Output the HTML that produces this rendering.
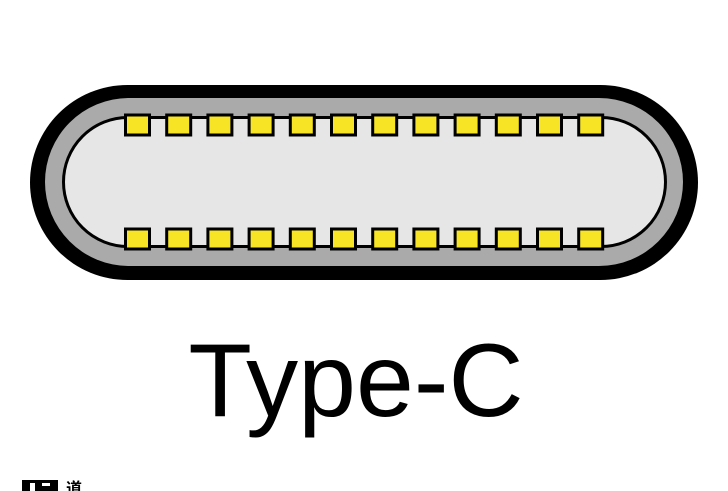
<!DOCTYPE html>
<html><head><meta charset="utf-8"><style>
html,body{margin:0;padding:0;background:#fff;width:728px;height:491px;overflow:hidden}
</style></head><body>
<svg width="728" height="491" xmlns="http://www.w3.org/2000/svg">
<rect x="30" y="85" width="668" height="195" rx="97.5" fill="#000"/>
<rect x="45" y="98" width="638" height="168" rx="84" fill="#aaaaaa"/>
<rect x="63.5" y="117.5" width="602" height="129" rx="64.5" fill="#e6e6e6" stroke="#000" stroke-width="3"/>
<g fill="#f7e425" stroke="#000" stroke-width="3">
<rect x="125.5" y="115" width="24" height="20"/><rect x="166.7" y="115" width="24" height="20"/><rect x="207.9" y="115" width="24" height="20"/><rect x="249.1" y="115" width="24" height="20"/><rect x="290.3" y="115" width="24" height="20"/><rect x="331.5" y="115" width="24" height="20"/><rect x="372.7" y="115" width="24" height="20"/><rect x="413.9" y="115" width="24" height="20"/><rect x="455.1" y="115" width="24" height="20"/><rect x="496.3" y="115" width="24" height="20"/><rect x="537.5" y="115" width="24" height="20"/><rect x="578.7" y="115" width="24" height="20"/>
<rect x="125.5" y="229" width="24" height="20"/><rect x="166.7" y="229" width="24" height="20"/><rect x="207.9" y="229" width="24" height="20"/><rect x="249.1" y="229" width="24" height="20"/><rect x="290.3" y="229" width="24" height="20"/><rect x="331.5" y="229" width="24" height="20"/><rect x="372.7" y="229" width="24" height="20"/><rect x="413.9" y="229" width="24" height="20"/><rect x="455.1" y="229" width="24" height="20"/><rect x="496.3" y="229" width="24" height="20"/><rect x="537.5" y="229" width="24" height="20"/><rect x="578.7" y="229" width="24" height="20"/>
</g>
<text x="356" y="416" text-anchor="middle" font-family="Liberation Sans, sans-serif" font-size="104" fill="#000">Type-C</text>
<rect x="22" y="480" width="36" height="11" fill="#000"/>
<rect x="30" y="483" width="5" height="8" fill="#fff"/>
<rect x="42" y="483" width="8" height="3" fill="#fff"/>
<text x="66" y="494" font-family="Noto Sans CJK SC, sans-serif" font-size="16" font-weight="bold" fill="#000">道</text>
</svg>
</body></html>
